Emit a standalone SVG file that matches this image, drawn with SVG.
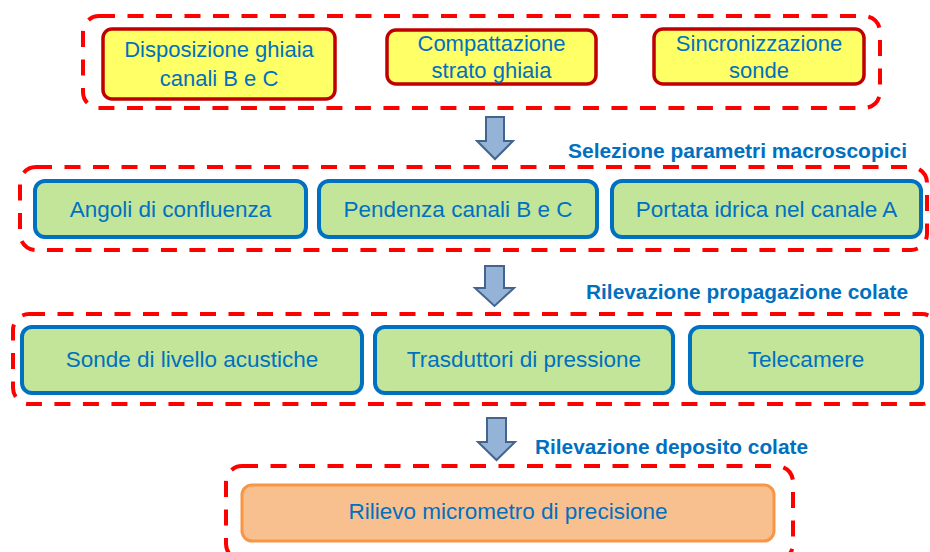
<svg xmlns="http://www.w3.org/2000/svg" width="930" height="552" viewBox="0 0 930 552">
  <style>
    .grp { fill: none; stroke: #ff0000; stroke-width: 4; stroke-dasharray: 16 12.5; }
    .yel { fill: #ffff66; stroke: #c00000; stroke-width: 3.5; }
    .grn { fill: #c3e59a; stroke: #0070c0; stroke-width: 4; }
    .org { fill: #f9c08f; stroke: #f79646; stroke-width: 3; }
    .arr { fill: #95b3d7; stroke: #43648f; stroke-width: 2; stroke-linejoin: miter; }
    text { font-family: "Liberation Sans", Arial, sans-serif; fill: #0070c0; }
    .t { font-size: 22.5px; text-anchor: middle; }
    .t1 { font-size: 22px; text-anchor: middle; }
    .lbl { font-size: 20px; font-weight: bold; }
  </style>

  <!-- group frames -->
  <g id="frames">
    <rect class="grp" x="83" y="16" width="797" height="92" rx="16"/>
    <rect class="grp" x="20" y="167" width="907" height="83" rx="16"/>
    <rect class="grp" x="13" y="314" width="925" height="90" rx="16"/>
    <rect class="grp" x="226" y="466" width="567" height="94" rx="16"/>
  </g>

  <!-- labels -->
  <g id="labels">
    <text class="lbl" x="568" y="158" textLength="339" lengthAdjust="spacingAndGlyphs">Selezione parametri macroscopici</text>
    <text class="lbl" x="586" y="299" textLength="322" lengthAdjust="spacingAndGlyphs">Rilevazione propagazione colate</text>
    <text class="lbl" x="535" y="454" textLength="273" lengthAdjust="spacingAndGlyphs">Rilevazione deposito colate</text>
  </g>

  <!-- row 1 -->
  <g id="n-disposizione">
    <rect class="yel" x="103" y="29" width="232" height="70" rx="9"/>
    <text class="t1" x="219" y="57">Disposizione ghiaia</text>
    <text class="t1" x="219" y="86">canali B e C</text>
  </g>
  <g id="n-compattazione">
    <rect class="yel" x="387" y="30" width="209" height="54" rx="9"/>
    <text class="t1" x="491.5" y="51">Compattazione</text>
    <text class="t1" x="491.5" y="78">strato ghiaia</text>
  </g>
  <g id="n-sincronizzazione">
    <rect class="yel" x="654" y="29" width="210" height="55" rx="9"/>
    <text class="t1" x="759" y="51">Sincronizzazione</text>
    <text class="t1" x="759" y="78">sonde</text>
  </g>

  <!-- row 2 -->
  <g id="n-angoli">
    <rect class="grn" x="35" y="181" width="271" height="56" rx="10"/>
    <text class="t" x="170.5" y="217">Angoli di confluenza</text>
  </g>
  <g id="n-pendenza">
    <rect class="grn" x="319" y="181" width="278" height="56" rx="10"/>
    <text class="t" x="458" y="217">Pendenza canali B e C</text>
  </g>
  <g id="n-portata">
    <rect class="grn" x="612" y="181" width="309" height="56" rx="10"/>
    <text class="t" x="766.5" y="217">Portata idrica nel canale A</text>
  </g>

  <!-- row 3 -->
  <g id="n-sonde">
    <rect class="grn" x="22" y="327" width="340" height="66" rx="10"/>
    <text class="t" x="192" y="367">Sonde di livello acustiche</text>
  </g>
  <g id="n-trasduttori">
    <rect class="grn" x="375" y="327" width="298" height="66" rx="10"/>
    <text class="t" x="524" y="367">Trasduttori di pressione</text>
  </g>
  <g id="n-telecamere">
    <rect class="grn" x="690" y="327" width="232" height="66" rx="10"/>
    <text class="t" x="806" y="367">Telecamere</text>
  </g>

  <!-- row 4 -->
  <g id="n-rilievo">
    <rect class="org" x="242" y="485" width="532" height="56" rx="10"/>
    <text class="t" x="508" y="519">Rilievo micrometro di precisione</text>
  </g>

  <!-- connectors -->
  <g id="connectors">
    <path class="arr" d="M486,117 H504 V141 H513 L495,159 L477,141 H486 Z"/>
    <path class="arr" d="M485,266 H504 V288 H514 L494.5,306 L475,288 H485 Z"/>
    <path class="arr" d="M487,418 H506 V442 H515 L496.5,460 L478,442 H487 Z"/>
  </g>
</svg>
